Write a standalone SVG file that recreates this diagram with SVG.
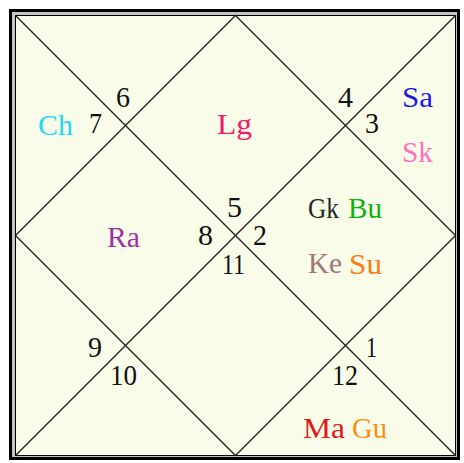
<svg xmlns="http://www.w3.org/2000/svg" width="464" height="463" viewBox="0 0 464 463">
<style>
text{font-family:"Liberation Serif","Times New Roman",serif;font-size:30px}
.n{fill:#111}
.ln{stroke:#262626;stroke-width:1.4;fill:none}
</style>
<rect width="464" height="463" fill="#ffffff"/>
<g id="frame">
<rect x="9" y="9" width="451" height="451" fill="#c4c4c4"/>
<rect x="10.5" y="10.5" width="448" height="448" fill="none" stroke="#000" stroke-width="3"/>
<rect x="15.5" y="15.5" width="440" height="440" fill="#fafcea" stroke="#000" stroke-width="1"/>
</g>
<g id="connectors" class="ln">
<line x1="15.5" y1="15.5" x2="455.5" y2="455.5"/>
<line x1="455.5" y1="15.5" x2="15.5" y2="455.5"/>
<polygon points="235.5,15.5 455.5,235.5 235.5,455.5 15.5,235.5"/>
</g>
<g id="h1"><text class="n" x="366" y="357" textLength="11" lengthAdjust="spacingAndGlyphs">1</text></g>
<g id="h2"><text class="n" x="253" y="245" textLength="14" lengthAdjust="spacingAndGlyphs">2</text>
<text x="308" y="218" fill="#1e2a1e" textLength="31" lengthAdjust="spacingAndGlyphs">Gk</text>
<text x="348" y="218" fill="#10b010" textLength="34" lengthAdjust="spacingAndGlyphs">Bu</text>
<text x="308" y="273" fill="#a07878" textLength="34" lengthAdjust="spacingAndGlyphs">Ke</text>
<text x="349" y="274" fill="#ff7a10" textLength="33" lengthAdjust="spacingAndGlyphs">Su</text></g>
<g id="h3"><text class="n" x="365" y="133" textLength="14" lengthAdjust="spacingAndGlyphs">3</text>
<text x="402" y="107" fill="#1a1ae6" textLength="31" lengthAdjust="spacingAndGlyphs">Sa</text>
<text x="402" y="162" fill="#ff70c0" textLength="31" lengthAdjust="spacingAndGlyphs">Sk</text></g>
<g id="h4"><text class="n" x="338" y="107" textLength="15" lengthAdjust="spacingAndGlyphs">4</text></g>
<g id="h5"><text class="n" x="227" y="217" textLength="15" lengthAdjust="spacingAndGlyphs">5</text>
<text x="217" y="134" fill="#f01a68" textLength="35" lengthAdjust="spacingAndGlyphs">Lg</text></g>
<g id="h6"><text class="n" x="116" y="107" textLength="14" lengthAdjust="spacingAndGlyphs">6</text></g>
<g id="h7"><text class="n" x="89" y="133" textLength="13" lengthAdjust="spacingAndGlyphs">7</text>
<text x="38" y="135" fill="#22d8f2" textLength="35" lengthAdjust="spacingAndGlyphs">Ch</text></g>
<g id="h8"><text class="n" x="198" y="245" textLength="15" lengthAdjust="spacingAndGlyphs">8</text>
<text x="107" y="247" fill="#a030a8" textLength="33" lengthAdjust="spacingAndGlyphs">Ra</text></g>
<g id="h9"><text class="n" x="88" y="357" textLength="14" lengthAdjust="spacingAndGlyphs">9</text></g>
<g id="h10"><text class="n" x="110" y="385" textLength="27" lengthAdjust="spacingAndGlyphs">10</text></g>
<g id="h11"><text class="n" x="222" y="274" textLength="23" lengthAdjust="spacingAndGlyphs">11</text></g>
<g id="h12"><text class="n" x="332" y="385" textLength="26" lengthAdjust="spacingAndGlyphs">12</text>
<text x="303" y="438" fill="#e01818" textLength="42" lengthAdjust="spacingAndGlyphs">Ma</text>
<text x="352" y="438" fill="#ff8c10" textLength="35" lengthAdjust="spacingAndGlyphs">Gu</text></g>
</svg>
